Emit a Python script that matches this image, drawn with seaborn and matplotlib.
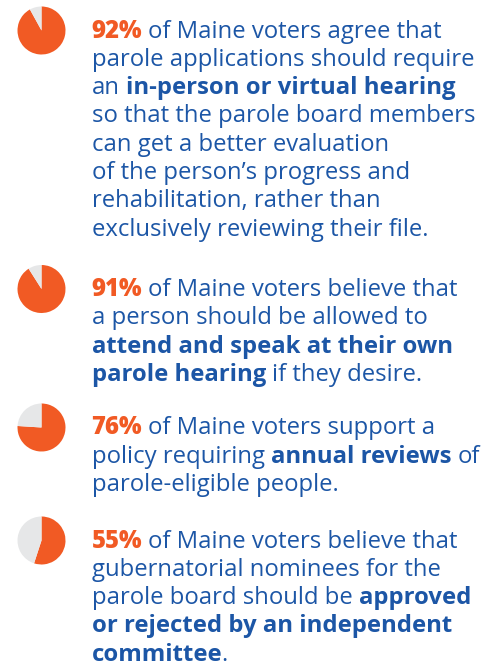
import matplotlib.pyplot as plt
import seaborn as sns

sns.set_theme(style="white")
plt.rcParams['font.family'] = ['Open Sans', 'DejaVu Sans']

# data
pcts = [92, 91, 76, 55]
pct_labels = ["92%", "91%", "76%", "55%"]

# text of each block: lines made of (text, style) runs; n = normal, b = bold
block1 = [
    [(" of Maine voters agree that", "n")],
    [("parole applications should require", "n")],
    [("an ", "n"), ("in-person or virtual hearing", "b")],
    [("so that the parole board members", "n")],
    [("can get a better evaluation", "n")],
    [("of the person\u2019s progress and", "n")],
    [("rehabilitation, rather than", "n")],
    [("exclusively reviewing their file.", "n")],
]
block2 = [
    [(" of Maine voters believe that", "n")],
    [("a person should be allowed to", "n")],
    [("attend and speak at their own", "b")],
    [("parole hearing", "b"), (" if they desire.", "n")],
]
block3 = [
    [(" of Maine voters support a", "n")],
    [("policy requiring ", "n"), ("annual reviews", "b"), (" of", "n")],
    [("parole-eligible people.", "n")],
]
block4 = [
    [(" of Maine voters believe that", "n")],
    [("gubernatorial nominees for the", "n")],
    [("parole board should be ", "n"), ("approved", "b")],
    [("or rejected by an independent", "b")],
    [("committee", "b"), (".", "n")],
]
blocks = [block1, block2, block3, block4]

ORANGE = "#f15a24"
GREY = "#e6e7e8"
BLUE = "#1c56a6"

W, H = 500, 669
fig = plt.figure(figsize=(W / 100, H / 100), dpi=100)
fig.patch.set_facecolor("white")

pie_cy = [30.5, 289, 427.5, 540.5]
pie_cx, pie_r = 41.5, 24
text_x = 91.5
line_gap = 28.3
fs = 17.2

renderer = fig.canvas.get_renderer()


def advance(s, weight):
    # width of s including its spaces, measured between two x's
    t1 = fig.text(0, 0, "x" + s + "x", fontsize=fs, fontweight=weight)
    t2 = fig.text(0, 0, "xx", fontsize=fs, fontweight=weight)
    w = t1.get_window_extent(renderer).width - t2.get_window_extent(renderer).width
    t1.remove()
    t2.remove()
    return w


def put(x, y, s, weight, color):
    lead = len(s) - len(s.lstrip(" "))
    x0 = x + (advance(" " * lead, weight) if lead else 0)
    fig.text(x0 / W, 1 - y / H, s.strip(" "), fontsize=fs, fontweight=weight,
             color=color, va="baseline", ha="left")
    return x + advance(s, weight)


for i, (p, lab, lines) in enumerate(zip(pcts, pct_labels, blocks)):
    cy = pie_cy[i]
    ax = fig.add_axes([(pie_cx - pie_r) / W, 1 - (cy + pie_r) / H,
                       2 * pie_r / W, 2 * pie_r / H])
    ax.pie([p, 100 - p], colors=[ORANGE, GREY], startangle=90,
           counterclock=False, wedgeprops=dict(linewidth=0))
    ax.set_xlim(-1, 1)
    ax.set_ylim(-1, 1)
    ax.set_aspect("equal")
    ax.axis("off")

    base = cy + 7
    for j, line in enumerate(lines):
        y = base + j * line_gap
        x = text_x
        if j == 0:
            x = put(x, y, lab, 800, ORANGE)
        for s, st in line:
            x = put(x, y, s, "bold" if st == "b" else "normal", BLUE)

fig.savefig("out.png", dpi=100, facecolor="white")
